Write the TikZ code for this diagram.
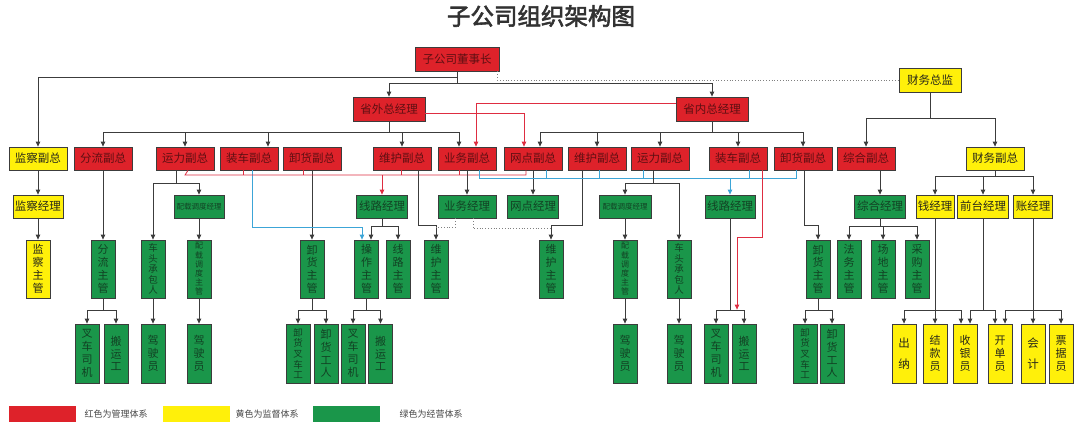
\documentclass[tikz,border=0pt]{standalone}
\usepackage{fontspec}
\setmainfont{Noto Sans CJK SC}
\newfontfamily\titlefont[FakeBold=2.5]{Noto Sans CJK SC}
\usetikzlibrary{arrows.meta,calc}
\definecolor{cred}{RGB}{222,34,42}
\definecolor{cyellow}{RGB}{255,240,10}
\definecolor{cgreen}{RGB}{26,150,74}
\definecolor{cborder}{RGB}{60,60,60}
\definecolor{tred}{RGB}{95,15,18}
\definecolor{tgreen}{RGB}{18,66,36}
\definecolor{tyellow}{RGB}{40,40,25}
\definecolor{cline}{RGB}{60,60,60}
\definecolor{credline}{RGB}{222,45,65}
\definecolor{cblue}{RGB}{60,165,215}
\definecolor{ctitle}{RGB}{50,50,50}
\definecolor{clegend}{RGB}{70,70,70}
\tikzset{
 box/.style={draw=cborder, line width=0.8pt, minimum height=23pt, inner sep=0pt, font=\fontsize{11.5}{11.5}\selectfont},
 rbox/.style={box, fill=cred, text=tred},
 ybox/.style={box, fill=cyellow, text=tyellow},
 gbox/.style={box, fill=cgreen, text=tgreen},
 smallfont/.style={font=\fontsize{7.5}{7.5}\selectfont},
 tall/.style={draw=cborder, line width=0.8pt, minimum width=24pt, minimum height=58pt, inner sep=0pt, align=center, font=\fontsize{11}{12.8}\selectfont},
 gtall/.style={tall, fill=cgreen, text=tgreen},
 ytall/.style={tall, fill=cyellow, text=tyellow},
 sixc/.style={font=\fontsize{8}{9.2}\selectfont},
 fivec/.style={font=\fontsize{9.5}{10.6}\selectfont},
 twoc/.style={font=\fontsize{11.5}{21}\selectfont},
 conn/.style={draw=cline, line width=0.8pt},
 arr/.style={conn, -{Triangle[length=5pt,width=4.5pt]}},
 redl/.style={draw=credline, line width=0.8pt},
 redarr/.style={redl, -{Triangle[length=5pt,width=4.5pt]}},
 bluel/.style={draw=cblue, line width=0.8pt},
 bluearr/.style={bluel, -{Triangle[length=5pt,width=4.5pt]}},
 dotl/.style={draw=gray, line width=0.8pt, dotted},
 legbox/.style={minimum width=67pt, minimum height=16pt, inner sep=0pt},
 legtext/.style={anchor=west, font=\fontsize{9}{9}\selectfont, text=clegend},
}
\begin{document}
\begin{tikzpicture}[x=1pt,y=-1pt]
\useasboundingbox (0,0) rectangle (1080,429);
\coordinate (redbus) at (0,175);
\coordinate (bluebus) at (0,178);
% title
\node[font=\titlefont\fontsize{23.5}{23.5}\selectfont, text=ctitle] (title) at (541,16) {子公司组织架构图};
% top
\node[rbox, minimum width=84pt, minimum height=24pt] (dsz) at (457,59) {子公司董事长};
\node[rbox, minimum width=72pt, minimum height=24pt] (swgm) at (389,109) {省外总经理};
\node[rbox, minimum width=72pt, minimum height=24pt] (sngm) at (712,109) {省内总经理};
\node[ybox, minimum width=62pt, minimum height=24pt] (cwzj) at (930,80) {财务总监};
% VP row
\node[ybox, minimum width=58pt] (jcfz) at (38,158.5) {监察副总};
\node[rbox, minimum width=58pt] (flfz) at (103,158.5) {分流副总};
\node[rbox, minimum width=58pt] (ylfz1) at (185,158.5) {运力副总};
\node[rbox, minimum width=58pt] (zcfz1) at (249,158.5) {装车副总};
\node[rbox, minimum width=58pt] (xhfz1) at (312,158.5) {卸货副总};
\node[rbox, minimum width=58pt] (whfz1) at (402,158.5) {维护副总};
\node[rbox, minimum width=58pt] (ywfz) at (467,158.5) {业务副总};
\node[rbox, minimum width=58pt] (wdfz) at (533,158.5) {网点副总};
\node[rbox, minimum width=58pt] (whfz2) at (597,158.5) {维护副总};
\node[rbox, minimum width=58pt] (ylfz2) at (660,158.5) {运力副总};
\node[rbox, minimum width=58pt] (zcfz2) at (738,158.5) {装车副总};
\node[rbox, minimum width=58pt] (xhfz2) at (803,158.5) {卸货副总};
\node[rbox, minimum width=58pt] (zhfz) at (866,158.5) {综合副总};
\node[ybox, minimum width=58pt] (cwfz) at (995,158.5) {财务副总};
% manager row
\node[ybox, minimum width=50pt] (jcjl) at (38,206.5) {监察经理};
\node[gbox, minimum width=50pt, smallfont] (ddjl1) at (199,206.5) {配载调度经理};
\node[gbox, minimum width=51pt] (xljl1) at (382,206.5) {线路经理};
\node[gbox, minimum width=58pt] (ywjl) at (467,206.5) {业务经理};
\node[gbox, minimum width=51pt] (wdjl) at (533,206.5) {网点经理};
\node[gbox, minimum width=52pt, smallfont] (ddjl2) at (625,206.5) {配载调度经理};
\node[gbox, minimum width=50pt] (xljl2) at (730,206.5) {线路经理};
\node[gbox, minimum width=51pt] (zhjl) at (880,206.5) {综合经理};
\node[ybox, minimum width=38pt] (qjl) at (935,206.5) {钱经理};
\node[ybox, minimum width=51pt] (qtjl) at (983,206.5) {前台经理};
\node[ybox, minimum width=39pt] (zjl) at (1033,206.5) {账经理};
% tall row
\node[ytall] (jczg) at (38,269) {监\\察\\主\\管};
\node[gtall] (flzg) at (103,269) {分\\流\\主\\管};
\node[gtall, fivec] (ctcb1) at (153,269) {车\\头\\承\\包\\人};
\node[gtall, sixc] (ddzg1) at (199,269) {配\\载\\调\\度\\主\\管};
\node[gtall] (xhzg1) at (312,269) {卸\\货\\主\\管};
\node[gtall] (czzg) at (366.5,269) {操\\作\\主\\管};
\node[gtall] (xlzg) at (398,269) {线\\路\\主\\管};
\node[gtall] (whzg1) at (436,269) {维\\护\\主\\管};
\node[gtall] (whzg2) at (551,269) {维\\护\\主\\管};
\node[gtall, sixc] (ddzg2) at (625,269) {配\\载\\调\\度\\主\\管};
\node[gtall, fivec] (ctcb2) at (679,269) {车\\头\\承\\包\\人};
\node[gtall] (xhzg2) at (818,269) {卸\\货\\主\\管};
\node[gtall] (fwzg) at (849,269) {法\\务\\主\\管};
\node[gtall] (cdzg) at (883,269) {场\\地\\主\\管};
\node[gtall] (cgzg) at (917,269) {采\\购\\主\\管};
% bottom row
\node[gtall, minimum height=59pt] (ccsj1) at (87,353.5) {叉\\车\\司\\机};
\node[gtall, minimum height=59pt] (byg1) at (116,353.5) {搬\\运\\工};
\node[gtall, minimum height=59pt] (jsy1) at (153,353.5) {驾\\驶\\员};
\node[gtall, minimum height=59pt] (jsy2) at (199,353.5) {驾\\驶\\员};
\node[gtall, minimum height=59pt, fivec] (xhcc1) at (298,353.5) {卸\\货\\叉\\车\\工};
\node[gtall, minimum height=59pt] (xhgr1) at (326,353.5) {卸\\货\\工\\人};
\node[gtall, minimum height=59pt] (ccsj2) at (353,353.5) {叉\\车\\司\\机};
\node[gtall, minimum height=59pt] (byg2) at (380.5,353.5) {搬\\运\\工};
\node[gtall, minimum height=59pt] (jsy3) at (625,353.5) {驾\\驶\\员};
\node[gtall, minimum height=59pt] (jsy4) at (679,353.5) {驾\\驶\\员};
\node[gtall, minimum height=59pt] (ccsj3) at (716,353.5) {叉\\车\\司\\机};
\node[gtall, minimum height=59pt] (byg3) at (744,353.5) {搬\\运\\工};
\node[gtall, minimum height=59pt, fivec] (xhcc2) at (805,353.5) {卸\\货\\叉\\车\\工};
\node[gtall, minimum height=59pt] (xhgr2) at (832,353.5) {卸\\货\\工\\人};
\node[ytall, minimum height=59pt, twoc] (cn) at (904,353.5) {出\\纳};
\node[ytall, minimum height=59pt] (jky) at (935,353.5) {结\\款\\员};
\node[ytall, minimum height=59pt] (syy) at (965,353.5) {收\\银\\员};
\node[ytall, minimum height=59pt] (kdy) at (1000,353.5) {开\\单\\员};
\node[ytall, minimum height=59pt, twoc] (kj) at (1033,353.5) {会\\计};
\node[ytall, minimum height=59pt] (pjy) at (1061,353.5) {票\\据\\员};
% legend
\node[legbox, fill=cred] (lr) at (42.5,414) {};
\node[legtext] (lrt) at (81,414) {红色为管理体系};
\node[legbox, fill=cyellow] (ly) at (196.5,414) {};
\node[legtext] (lyt) at (232,414) {黄色为监督体系};
\node[legbox, fill=cgreen] (lg) at (346.5,414) {};
\node[legtext] (lgt) at (396,414) {绿色为经营体系};

% ---- connectors ----
\draw[arr] (dsz.south) -- ++(0,6) -| (jcfz.north);
\draw[arr] (dsz.south) -- ++(0,12) -| (swgm.north);
\draw[arr] (dsz.south) ++(0,12) -| (sngm.north);
\draw[dotl] ($(dsz.south east)+(-2,0)$) |- (cwzj.west);
\draw[arr] (cwzj.south) -- ++(0,26) -| (zhfz.north);
\draw[arr] (cwzj.south) ++(0,26) -| (cwfz.north);
% sheng wai
\draw[arr] (swgm.south) -- ++(0,11) -| (flfz.north);
\draw[arr] (swgm.south) ++(0,11) -| (ylfz1.north);
\draw[arr] (swgm.south) ++(0,11) -| ($(zcfz1.north)+(19,0)$);
\draw[arr] (swgm.south) ++(0,11) -| (whfz1.north);
\draw[arr] (swgm.south) ++(0,11) -| ($(ywfz.north)+(-8,0)$);
% sheng nei
\draw[arr] (sngm.south) -- ++(0,11) -| ($(wdfz.north)+(7,0)$);
\draw[arr] (sngm.south) ++(0,11) -| (whfz2.north);
\draw[arr] (sngm.south) ++(0,11) -| (ylfz2.north);
\draw[arr] (sngm.south) ++(0,11) -| (zcfz2.north);
\draw[arr] (sngm.south) ++(0,11) -| (xhfz2.north);
% red cross links
\draw[redarr] ($(swgm.east)+(0,4)$) -| ($(wdfz.north)+(-9,0)$);
\draw[redarr] ($(sngm.west)+(0,-6)$) -| ($(ywfz.north)+(9,0)$);
% jian cha
\draw[arr] (jcfz.south) -- (jcjl.north);
\draw[arr] (jcjl.south) -- (jczg.north);
% fen liu
\draw[arr] (flfz.south) -- (flzg.north);
\draw[arr] (flzg.south) -- ++(0,12) -| (ccsj1.north);
\draw[arr] (flzg.south) ++(0,12) -| (byg1.north);
% yun li left
\draw[arr] ($(ylfz1.south)+(-9,0)$) -- ++(0,12.5) -| (ctcb1.north);
\draw[arr] ($(ylfz1.south)+(-9,0)$) ++(0,12.5) -| (ddjl1.north);
\draw[arr] (ddjl1.south) -- (ddzg1.north);
\draw[arr] (ddzg1.south) -- (jsy2.north);
\draw[arr] (ctcb1.south) -- (jsy1.north);
% xie huo left
\draw[arr] (xhfz1.south) -- (xhzg1.north);
\draw[arr] (xhzg1.south) -- ++(0,12) -| (xhcc1.north);
\draw[arr] (xhzg1.south) ++(0,12) -| (xhgr1.north);
% blue from zhuang che left
\draw[bluearr] ($(zcfz1.south)+(3,0)$) -- ++(0,57) -| ($(czzg.north)+(-4.5,0)$);
% red bus
\draw[redl] ($(ylfz1.south)+(3,0)$) -- (ylfz1.south |- redbus) -| ($(wdfz.south)+(-7,0)$);
\draw[redl] ($(zcfz1.south)+(-6,0)$) -- ++(0,5);
\draw[redl] ($(xhfz1.south)+(-9,0)$) -- ++(0,5);
\draw[redl] ($(whfz1.south)+(-1,0)$) -- ++(0,5);
\draw[redl] ($(ywfz.south)+(-8,0)$) -- ++(0,5);
\draw[redarr] (xljl1.north |- redbus) -- (xljl1.north);
% xian lu left
\draw[arr] (xljl1.south) -- ++(0,8) -| ($(czzg.north)+(4.5,0)$);
\draw[arr] (xljl1.south) ++(0,8) -| (xlzg.north);
\draw[arr] (czzg.south) -- ++(0,12) -| (ccsj2.north);
\draw[arr] (czzg.south) ++(0,12) -| (byg2.north);
% wei hu
\draw[arr] ($(whfz1.south)+(16,0)$) -- ++(0,55) -| (whzg1.north);
\draw[arr] ($(whfz2.south)+(-15,0)$) -- ++(0,55) -| (whzg2.north);
% ye wu, wang dian
\draw[arr] (ywfz.south) -- (ywjl.north);
\draw[arr] (wdfz.south) -- (wdjl.north);
\draw[dotl] ($(ywjl.south)+(-12,0)$) |- ($(whzg1.north)+(0,-12)$);
\draw[dotl] ($(ywjl.south)+(6,0)$) |- ($(whzg2.north)+(0,-11)$);
% blue bus
\draw[bluel] ($(ywfz.south)+(12,0)$) -- ++(0,8) -| ($(xhfz2.south)+(-7,0)$);
\draw[bluel] ($(wdfz.south)+(13,0)$) -- ++(0,8);
\draw[bluel] ($(whfz2.south)+(2,0)$) -- ++(0,8);
\draw[bluel] ($(ylfz2.south)+(-17,0)$) -- ++(0,8);
\draw[bluel] ($(zcfz2.south)+(11,0)$) -- ++(0,8);
\draw[bluearr] (xljl2.north |- bluebus) -- (xljl2.north);
% yun li right
\draw[arr] ($(ylfz2.south)+(-7,0)$) -- ++(0,12.5) -| (ddjl2.north);
\draw[arr] ($(ylfz2.south)+(-7,0)$) ++(0,12.5) -| (ctcb2.north);
\draw[arr] (ddjl2.south) -- (ddzg2.north);
\draw[arr] (ddzg2.south) -- (jsy3.north);
\draw[arr] (ctcb2.south) -- (jsy4.north);
% xian lu right
\draw[arr] (xljl2.south) -- ++(0,92) -| (ccsj3.north);
\draw[arr] (xljl2.south) ++(0,92) -| (byg3.north);
\draw[redarr] ($(zcfz2.south)+(24,0)$) -- ++(0,67) -| ($(byg3.north)+(-7,-14)$);
% xie huo right
\draw[arr] ($(xhfz2.south)+(1,0)$) -- ++(0,55) -| (xhzg2.north);
\draw[arr] (xhzg2.south) -- ++(0,12) -| (xhcc2.north);
\draw[arr] (xhzg2.south) ++(0,12) -| (xhgr2.north);
% zong he
\draw[arr] (zhjl.north |- zhfz.south) -- (zhjl.north);
\draw[arr] (zhjl.south) -- ++(0,8) -| (fwzg.north);
\draw[arr] (zhjl.south) ++(0,8) -| (cdzg.north);
\draw[arr] (zhjl.south) ++(0,8) -| (cgzg.north);
% cai wu
\draw[arr] (cwfz.south) -- ++(0,6) -| (qjl.north);
\draw[arr] (cwfz.south) ++(0,6) -| (qtjl.north);
\draw[arr] (cwfz.south) ++(0,6) -| (zjl.north);
\draw[arr] (qjl.south) -- (jky.north);
\draw[arr] (qjl.south) ++(0,92) -| (cn.north);
\draw[arr] (qjl.south) ++(0,92) -| ($(syy.north)+(-4,0)$);
\draw[arr] (qtjl.south) -- ++(0,92) -| ($(syy.north)+(5,0)$);
\draw[arr] (qtjl.south) ++(0,92) -| ($(kdy.north)+(-5,0)$);
\draw[arr] (zjl.south) -- (kj.north);
\draw[arr] (zjl.south) ++(0,92) -| ($(kdy.north)+(5,0)$);
\draw[arr] (zjl.south) ++(0,92) -| (pjy.north);
\end{tikzpicture}
\end{document}
